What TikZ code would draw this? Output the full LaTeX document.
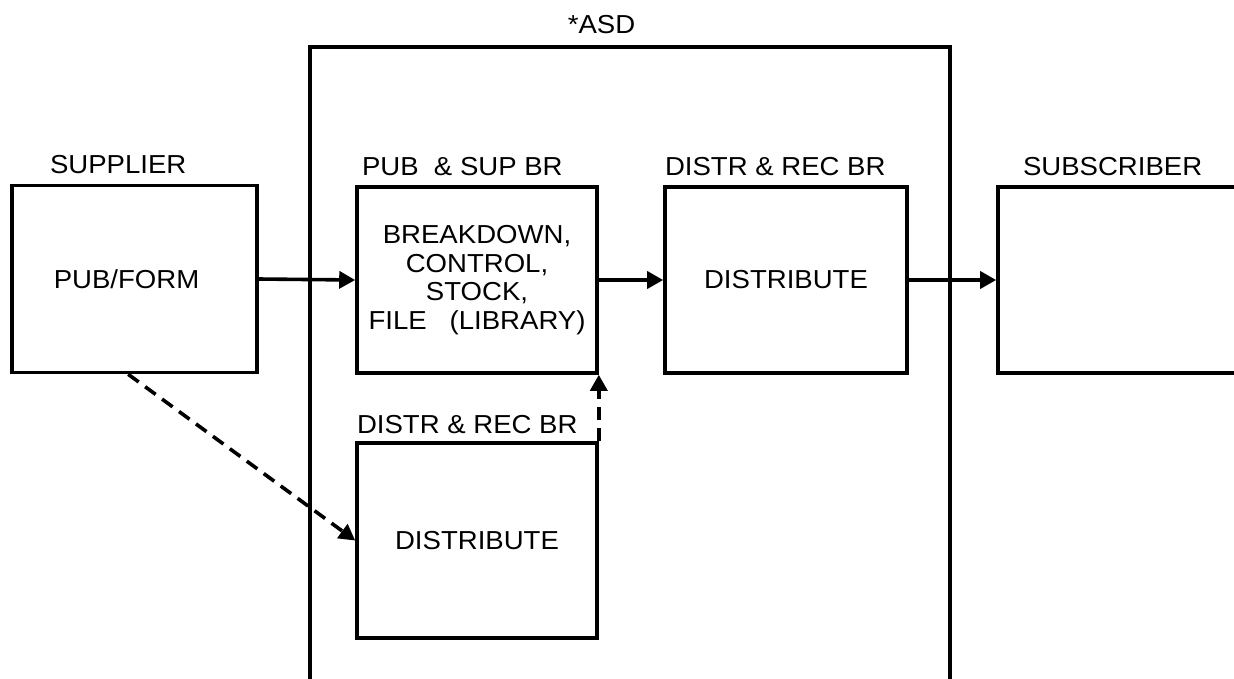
\documentclass[tikz,border=0pt]{standalone}
\usepackage{fontspec}
\setmainfont{Liberation Sans}[FakeStretch=1.06]
\usetikzlibrary{arrows.meta,calc}
\begin{document}
\begin{tikzpicture}[x=1pt,y=-1pt,
  line width=3.6pt,
  every node/.style={font=\fontsize{26}{28.5}\selectfont, inner sep=0pt},
  box/.style={draw, rectangle, line width=3.6pt},
  lbl/.style={anchor=base west},
  flow/.style={-{Triangle[length=16pt,width=17pt]}},
  dflow/.style={-{Triangle[length=16pt,width=17pt]}, dash pattern=on 13pt off 8pt}]
\useasboundingbox (0,0) rectangle (1234,678);
\clip (0,0) rectangle (1234,678);
% ASD frame
\draw (310,700) -- (310,47) -- (950,47) -- (950,700);
\node[lbl] (asd) at (566,33) {*ASD};
% boxes
\node[box, minimum width=245pt, minimum height=187pt] (sup) at (134.5,279) {};
\node (supt) at ($(sup.center)+(-8,0)$) {PUB/FORM};
\node[box, minimum width=240pt, minimum height=186pt, align=center] (pub) at (477,280)
  {BREAKDOWN,\\CONTROL,\\STOCK,\\FILE\ \ \ (LIBRARY)};
\node[box, minimum width=242pt, minimum height=186pt] (dr) at (786,280) {DISTRIBUTE};
\node[box, minimum width=300pt, minimum height=186pt] (subs) at (1148,280) {};
\node[box, minimum width=240pt, minimum height=195pt] (low) at (477,540.5) {DISTRIBUTE};
% labels
\node[lbl] (lsup) at ($(sup.north west)+(38,-10)$) {SUPPLIER};
\node[lbl] (lpub) at ($(pub.north west)+(5,-10)$) {PUB\ \ \& SUP BR};
\node[lbl] (ldr) at ($(dr.north west)+(0,-10)$) {DISTR \& REC BR};
\node[lbl] (lsubs) at ($(subs.north west)+(25,-10)$) {SUBSCRIBER};
\node[lbl] (llow) at ($(low.north west)+(0,-8)$) {DISTR \& REC BR};
% connectors
\draw[flow] (sup.east) -- (pub.west);
\draw[flow] (pub.east) -- (dr.west);
\draw[flow] (dr.east) -- (subs.west);
\coordinate (dstart) at ($(sup.south west)+(118,0)$);
\draw[dflow] (dstart) -- (low.west);
\draw[dflow] (low.north east) -- (pub.south east);
\end{tikzpicture}
\end{document}
